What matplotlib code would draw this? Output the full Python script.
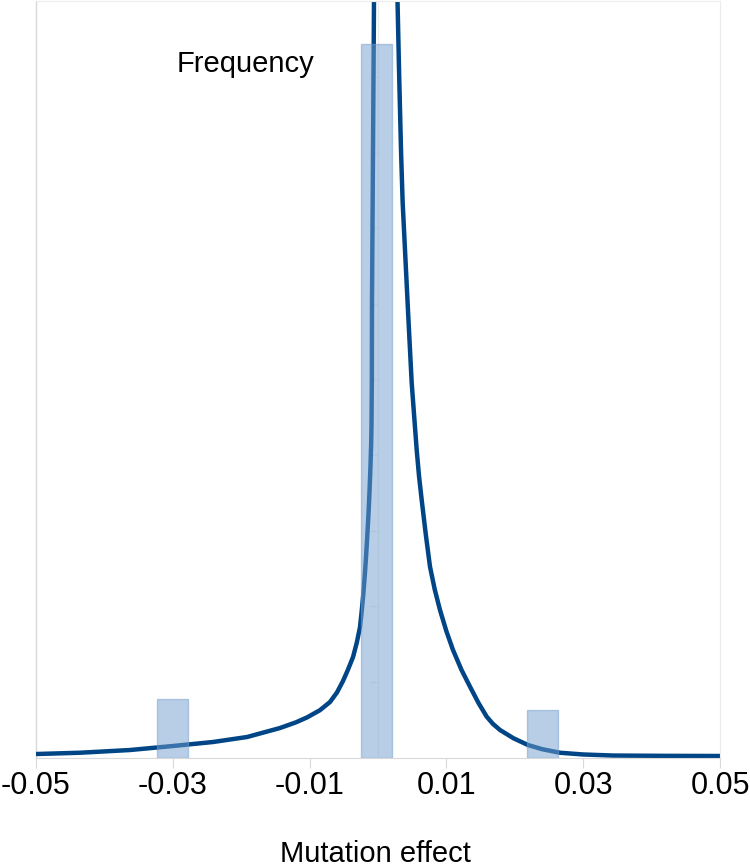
import matplotlib.pyplot as plt

# histogram bars (mutation effect, relative frequency)
bar_x = [-0.0301, -0.0002, 0.0241]
bar_h = [0.0776, 0.944, 0.063]
bar_w = 0.0045

# fitted density curve
curve_x = [-0.0500, -0.04357, -0.03626, -0.0300, -0.02412, -0.01915, -0.01433,
           -0.0120, -0.01038, -0.0085, -0.00702, -0.0060, -0.00512, -0.0044,
           -0.00365, -0.0031, -0.00263, -0.0024, -0.00215, -0.0019, -0.00175,
           -0.0016, -0.00139, -0.00125, -0.00110, -0.0010, -0.00095, -0.0009,
           -0.000877, -0.00073, -0.000585, -0.00055,
           0.0012,
           0.00290, 0.002851, 0.0031, 0.003363, 0.0036, 0.003947, 0.004430,
           0.004927, 0.0053, 0.005658, 0.0060, 0.006389, 0.0070, 0.007602,
           0.0083, 0.009064, 0.0100, 0.010965, 0.0122, 0.013450, 0.0147,
           0.015892, 0.0168, 0.017836, 0.0198, 0.021930, 0.0240, 0.026608,
           0.0300, 0.034357, 0.0420, 0.0500]
curve_y = [0.0046, 0.0063, 0.0099, 0.0152, 0.0205, 0.0271, 0.0390,
           0.0465, 0.0530, 0.0625, 0.0734, 0.0860, 0.1012, 0.1160,
           0.1329, 0.1520, 0.1726, 0.1920, 0.2160, 0.2450, 0.2650,
           0.2880, 0.3220, 0.3500, 0.3850, 0.4150, 0.4400, 0.5000,
           0.6052, 0.8036, 1.002, 1.05,
           1.6,
           1.05, 1.002, 0.9000, 0.8036, 0.7350, 0.6713, 0.5831,
           0.4954, 0.4500, 0.4067, 0.3720, 0.3406, 0.2940, 0.2524,
           0.2220, 0.1951, 0.1670, 0.1422, 0.1160, 0.0937, 0.0720,
           0.0540, 0.0445, 0.0364, 0.0255, 0.0165, 0.0110, 0.0063,
           0.0040, 0.0026, 0.0022, 0.0020]

xticks = [-0.05, -0.03, -0.01, 0.01, 0.03, 0.05]
xlabels = ['-0.05', '-0.03', '-0.01', '0.01', '0.03', '0.05']

plt.rcParams['font.family'] = ['Liberation Sans Narrow', 'Liberation Sans', 'DejaVu Sans']

fig = plt.figure(figsize=(7.5, 8.68), dpi=100)
ax = fig.add_axes([0.048, 0.1273, 0.912, 0.871])

grey = '#d9d9d9'

ax.plot(curve_x, curve_y, color='#004586', lw=3.2, zorder=2,
        solid_capstyle='butt', solid_joinstyle='round')
ax.bar(bar_x, bar_h, width=bar_w, color='#729fcf', alpha=0.5,
       edgecolor='#729fcf', linewidth=1.0, zorder=3)

ax.set_xlim(-0.05, 0.05)
ax.set_ylim(0, 1.0)

# y axis crosses at x = 0, barely visible
ax.spines['left'].set_position(('data', 0))
ax.spines['left'].set_color('#ececec')
ax.spines['left'].set_zorder(1)
ax.set_yticks([i / 10 for i in range(1, 10)])
ax.set_yticklabels([])
ax.tick_params(axis='y', length=6, color='#ececec', direction='out')

for s in ['top', 'right']:
    ax.spines[s].set_color('#ececec')
ax.spines['bottom'].set_color(grey)
ax.axvline(-0.05, color=grey, lw=1.0, zorder=1, clip_on=False)

ax.set_xticks(xticks)
ax.set_xticklabels(xlabels, fontsize=22)
ax.tick_params(axis='x', length=7, color=grey, pad=3)

fig.text(0.5, 0.016, 'Mutation effect', fontsize=21, ha='center', va='center')
ax.text(-0.0194, 0.917, 'Frequency', fontsize=21, ha='center', va='center')

fig.savefig('out.png', dpi=100)
